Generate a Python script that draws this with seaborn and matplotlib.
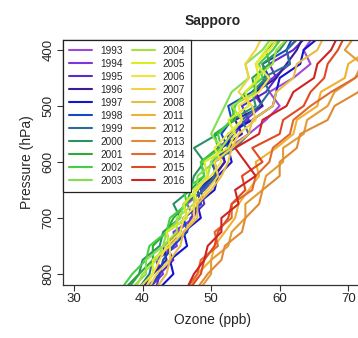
import pandas as pd
import numpy as np
import matplotlib
matplotlib.use("Agg")
import matplotlib.pyplot as plt
import seaborn as sns

# -----------------------------
# data: ozone profiles (ppb) at each pressure level (hPa), one list per year
# -----------------------------
pressure = [825, 800, 775, 750, 725, 700, 675, 650, 625, 600, 575, 550, 525, 500, 475, 450, 425, 400, 375]

years = ['1993', '1994', '1995', '1996', '1997', '1998', '1999', '2000', '2001', '2002', '2003', '2004',
         '2005', '2006', '2007', '2008', '2011', '2012', '2013', '2014', '2015', '2016']

oz_1993 = [40.5, 42.5, 42.0, 44.5, 45.0, 47.5, 46.5, 49.0, 51.0, 50.0, 52.5, 55.5, 58.0, 60.0, 58.5, 62.0, 64.5, 63.5, 65.0]
oz_1994 = [41.0, 43.0, 42.0, 45.0, 44.5, 47.5, 48.0, 47.5, 50.5, 52.0, 51.0, 53.5, 55.0, 57.5, 56.0, 59.0, 61.5, 61.0, 63.0]
oz_1995 = [42.0, 42.5, 44.5, 43.5, 46.5, 47.0, 49.0, 48.5, 51.0, 50.5, 53.0, 52.5, 55.5, 54.5, 58.0, 59.5, 58.5, 62.0, 64.0]
oz_1996 = [40.0, 41.5, 43.5, 43.0, 45.5, 46.0, 48.5, 48.0, 50.5, 52.0, 51.5, 54.5, 53.5, 57.5, 56.5, 59.5, 61.0, 62.5, 63.5]
oz_1997 = [42.5, 44.5, 44.0, 46.5, 46.0, 48.5, 48.0, 50.5, 51.0, 53.0, 52.5, 52.5, 56.0, 59.0, 59.5, 60.0, 63.0, 63.5, 66.0]
oz_1998 = [41.0, 42.5, 43.0, 44.5, 46.5, 46.0, 48.5, 48.0, 51.0, 50.0, 52.5, 51.5, 53.0, 52.5, 56.0, 58.5, 57.5, 61.0, 62.0]
oz_1999 = [39.5, 41.0, 41.5, 44.0, 43.5, 46.5, 46.0, 49.0, 50.5, 50.5, 53.5, 55.5, 54.5, 57.0, 58.5, 57.5, 61.5, 61.0, 63.0]
oz_2000 = [37.5, 39.5, 40.0, 42.5, 43.0, 45.5, 44.5, 47.0, 47.5, 49.0, 47.5, 51.0, 53.0, 56.5, 56.0, 58.0, 57.5, 60.0, 61.5]
oz_2001 = [38.0, 39.5, 41.5, 41.5, 43.5, 44.5, 46.5, 47.0, 49.0, 48.5, 51.0, 50.5, 53.5, 53.0, 56.5, 56.0, 58.5, 58.0, 60.5]
oz_2002 = [37.0, 38.5, 40.5, 41.0, 43.5, 44.0, 46.5, 46.0, 49.0, 48.5, 51.5, 51.0, 53.0, 53.5, 55.0, 57.5, 57.0, 59.0, 60.5]
oz_2003 = [38.5, 40.5, 40.5, 43.0, 43.5, 45.5, 46.0, 48.0, 48.0, 50.5, 51.5, 50.0, 51.0, 52.0, 53.0, 55.5, 55.0, 57.5, 59.0]
oz_2004 = [39.0, 40.0, 42.0, 43.0, 45.0, 45.0, 47.5, 47.5, 49.5, 50.0, 51.5, 53.0, 54.5, 53.0, 56.5, 56.5, 59.0, 59.5, 61.5]
oz_2005 = [39.5, 41.5, 41.5, 44.0, 43.5, 46.5, 46.0, 48.0, 49.5, 49.0, 52.5, 53.5, 52.5, 55.5, 55.0, 57.0, 56.5, 58.0, 59.5]
oz_2006 = [40.5, 41.5, 42.5, 43.5, 45.5, 46.0, 48.0, 47.5, 50.0, 51.5, 50.5, 52.5, 54.5, 54.0, 57.0, 58.5, 56.5, 58.5, 60.0]
oz_2007 = [41.0, 42.0, 44.0, 44.0, 46.0, 47.5, 47.5, 49.5, 51.0, 50.5, 53.0, 54.0, 56.5, 56.0, 54.0, 55.5, 55.0, 56.5, 57.5]
oz_2008 = [42.0, 43.5, 44.0, 45.5, 46.0, 48.0, 48.0, 50.0, 51.5, 52.5, 53.0, 55.5, 56.0, 59.0, 59.5, 62.0, 62.5, 65.5, 66.5]
oz_2011 = [47.0, 48.0, 50.0, 50.5, 52.0, 53.5, 54.0, 55.5, 57.0, 56.5, 59.5, 62.0, 62.5, 65.5, 66.0, 69.5, 70.0, 73.0, 74.0]
oz_2012 = [48.5, 50.0, 50.0, 52.5, 53.0, 55.0, 55.0, 57.5, 58.0, 60.5, 60.5, 63.5, 64.0, 67.0, 68.0, 71.0, 72.0, 69.5, 71.0]
oz_2013 = [48.0, 49.5, 51.5, 52.0, 54.5, 55.0, 57.0, 57.5, 60.0, 60.0, 62.5, 63.0, 67.0, 68.0, 71.5, 72.0, 75.0, 75.0, 76.0]
oz_2014 = [46.5, 48.0, 48.5, 51.0, 50.5, 53.0, 53.0, 56.0, 56.5, 58.5, 59.0, 61.5, 62.0, 64.5, 67.5, 71.0, 73.5, 75.0, 76.0]
oz_2015 = [47.0, 48.5, 49.0, 50.5, 51.0, 52.5, 53.0, 55.0, 54.5, 57.5, 56.0, 60.0, 60.5, 63.5, 64.5, 66.5, 67.0, 68.5, 69.5]
oz_2016 = [46.5, 47.5, 49.0, 49.5, 51.5, 51.5, 54.0, 53.5, 56.5, 55.0, 53.5, 57.0, 57.5, 61.0, 62.0, 65.0, 65.5, 67.5, 68.5]

profiles = [oz_1993, oz_1994, oz_1995, oz_1996, oz_1997, oz_1998, oz_1999, oz_2000, oz_2001, oz_2002, oz_2003,
            oz_2004, oz_2005, oz_2006, oz_2007, oz_2008, oz_2011, oz_2012, oz_2013, oz_2014, oz_2015, oz_2016]

# rainbow-ish colours, purple (1993) -> red (2016)
year_colors = ['#a048d8', '#7a34e0', '#5a2ccc', '#3a1c9a', '#1414d0', '#1448c4', '#2a6c98', '#2a9262',
               '#2eaa3a', '#44d044', '#80e050', '#a4e244', '#d6ee22', '#eee640', '#f0d244', '#e8bc44',
               '#f0b030', '#e29c34', '#e08a34', '#e06a30', '#e04a22', '#d02222']

# long format table for seaborn
rows = []
for yr, vals in zip(years, profiles):
    for p, v in zip(pressure, vals):
        rows.append({'year': yr, 'pressure': p, 'ozone': v})
df = pd.DataFrame(rows)

# -----------------------------
# plot
# -----------------------------
sns.set_theme(style='ticks')
plt.rcParams['font.family'] = ['Liberation Sans', 'DejaVu Sans']

fig = plt.figure(figsize=(3.58, 3.38), dpi=100)
ax = fig.add_axes([0.176, 0.158, 0.835, 0.724])

sns.lineplot(data=df, x='ozone', y='pressure', hue='year', palette=dict(zip(years, year_colors)),
             sort=False, estimator=None, linewidth=1.5, ax=ax)

ax.set_xlim(28.4, 72)
ax.set_ylim(819, 382)
ax.set_xticks([30, 40, 50, 60, 70])
ax.set_yticks([400, 500, 600, 700, 800])
ax.tick_params(axis='both', labelsize=9.5, length=4, width=0.8, color='#333333', pad=2)
for lab in ax.get_yticklabels():
    lab.set_rotation(90)
    lab.set_va('center')
for s in ax.spines.values():
    s.set_linewidth(0.9)
    s.set_color('#333333')

ax.set_xlabel('Ozone (ppb)', fontsize=10, labelpad=6)
ax.set_ylabel('Pressure (hPa)', fontsize=10, labelpad=6)
ax.set_title('Sapporo', fontsize=10, fontweight='bold', pad=11)

handles, labels = ax.get_legend_handles_labels()
leg = ax.legend(handles, labels, ncol=2, loc='upper left', bbox_to_anchor=(0, 1), borderaxespad=0,
                fontsize=7.2, handlelength=2.3, handletextpad=0.8, labelspacing=0.3, columnspacing=0.9,
                borderpad=0.6, fancybox=False, framealpha=1, edgecolor='#222222')
leg.get_frame().set_linewidth(0.9)

fig.savefig('out.png', dpi=100)
